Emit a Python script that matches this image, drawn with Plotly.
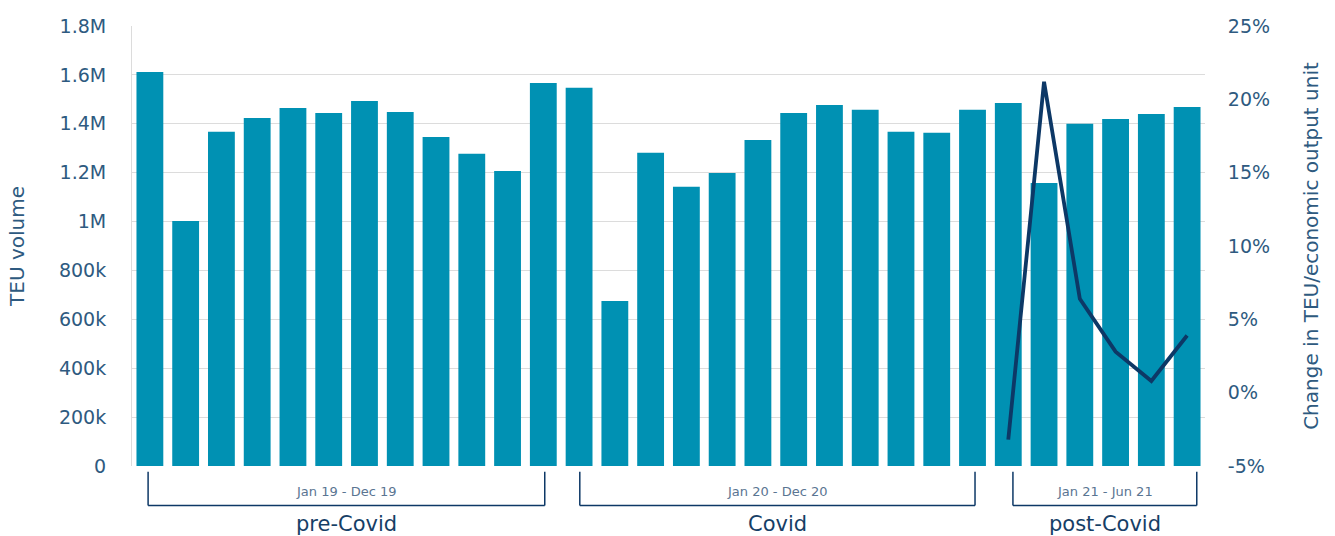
import plotly.graph_objects as go

months = ["Jan 19","Feb 19","Mar 19","Apr 19","May 19","Jun 19","Jul 19","Aug 19","Sep 19","Oct 19","Nov 19","Dec 19",
          "Jan 20","Feb 20","Mar 20","Apr 20","May 20","Jun 20","Jul 20","Aug 20","Sep 20","Oct 20","Nov 20","Dec 20",
          "Jan 21","Feb 21","Mar 21","Apr 21","May 21","Jun 21"]
teu = [1612000, 1002000, 1367000, 1424000, 1465000, 1444000, 1493000, 1448000, 1346000, 1277000, 1207000, 1567000,
       1547000, 675000, 1281000, 1142000, 1199000, 1334000, 1444000, 1477000, 1457000, 1367000, 1363000, 1457000,
       1485000, 1158000, 1400000, 1420000, 1440000, 1469000]
change_months = ["Jan 21","Feb 21","Mar 21","Apr 21","May 21","Jun 21"]
change_pct = [-3.2, 21.2, 6.4, 2.8, 0.8, 3.9]

left_ticks = [0, 200000, 400000, 600000, 800000, 1000000, 1200000, 1400000, 1600000, 1800000]
left_labels = ["0", "200k", "400k", "600k", "800k", "1M", "1.2M", "1.4M", "1.6M", "1.8M"]
right_ticks = [-5, 0, 5, 10, 15, 20, 25]
right_labels = ["-5%", "0%", "5%", "10%", "15%", "20%", "25%"]

# (sub label, main label, first month, last month, left offset, right offset)
periods = [("Jan 19 - Dec 19", "pre-Covid", "Jan 19", "Dec 19", -0.05, 0.04),
           ("Jan 20 - Dec 20", "Covid", "Jan 20", "Dec 20", 0.02, 0.07),
           ("Jan 21 - Jun 21", "post-Covid", "Jan 21", "Jun 21", 0.13, 0.27)]

FONT = "DejaVu Sans"
AXC = "#2e5a80"
BAR = "#0091b3"
LINE = "#0d3866"

fig = go.Figure()
fig.add_trace(go.Bar(x=months, y=teu, marker=dict(color=BAR, line=dict(width=0)), yaxis="y", name="TEU"))
fig.add_trace(go.Scatter(x=change_months, y=change_pct, mode="lines", line=dict(color=LINE, width=3.8),
                         yaxis="y2", name="Change"))

idx = {m: i for i, m in enumerate(months)}
shapes = []
annotations = []
for sub, main, a, b, o0, o1 in periods:
    x0 = idx[a] + o0
    x1 = idx[b] + o1
    for xx in (x0, x1):
        shapes.append(dict(type="line", xref="x", yref="paper", x0=xx, x1=xx, y0=-0.013, y1=-0.09,
                           line=dict(color=LINE, width=1.5)))
    shapes.append(dict(type="line", xref="x", yref="paper", x0=x0, x1=x1, y0=-0.09, y1=-0.09,
                       line=dict(color=LINE, width=1.5)))
    xm = (x0 + x1) / 2
    annotations.append(dict(x=xm, y=-0.057, xref="x", yref="paper", text=sub, showarrow=False,
                            font=dict(family=FONT, size=13, color="#5a7592"), yanchor="middle"))
    annotations.append(dict(x=xm, y=-0.132, xref="x", yref="paper", text=main, showarrow=False,
                            font=dict(family=FONT, size=21, color="#163e66"), yanchor="middle"))

fig.update_layout(
    width=1335, height=536,
    margin=dict(l=132, r=130, t=26, b=70),
    paper_bgcolor="white", plot_bgcolor="white",
    showlegend=False,
    bargap=0.25,
    font=dict(family=FONT, color=AXC),
    xaxis=dict(showticklabels=False, showgrid=False, zeroline=False, showline=False,
               range=[-0.5, len(months) - 0.5]),
    yaxis=dict(range=[0, 1800000], tickvals=left_ticks, ticktext=left_labels,
               showgrid=True, gridcolor="#dcdcdc", gridwidth=1, zeroline=False,
               showline=True, linecolor="#dcdcdc", linewidth=1,
               ticks="outside", ticklen=21, tickcolor="rgba(0,0,0,0)",
               tickfont=dict(family=FONT, size=19, color=AXC),
               title=dict(text="TEU volume", font=dict(family=FONT, size=20, color=AXC), standoff=28)),
    yaxis2=dict(range=[-5, 25], tickvals=right_ticks, ticktext=right_labels, overlaying="y", side="right",
                showgrid=False, zeroline=False, showline=False,
                ticks="outside", ticklen=18, tickcolor="rgba(0,0,0,0)",
                tickfont=dict(family=FONT, size=19, color=AXC),
                title=dict(text="Change in TEU/economic output unit", font=dict(family=FONT, size=20, color=AXC),
                           standoff=34)),
    shapes=shapes,
    annotations=annotations,
)

fig.write_html("out.html")
